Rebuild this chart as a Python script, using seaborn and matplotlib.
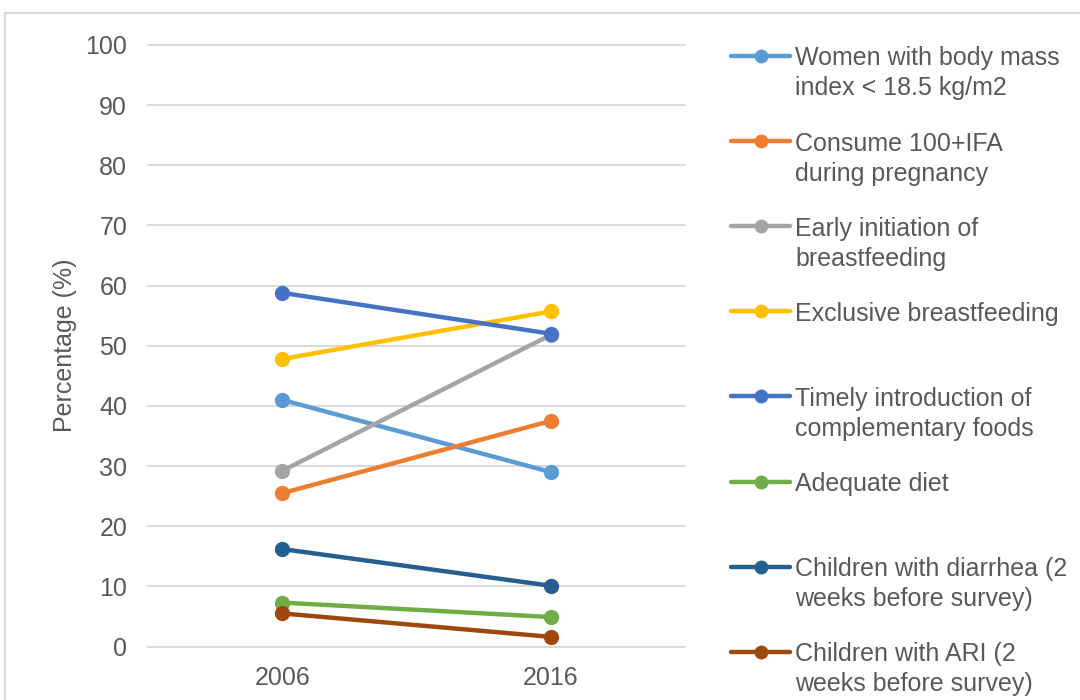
import pandas as pd
import seaborn as sns
import matplotlib.pyplot as plt
from matplotlib.lines import Line2D
from matplotlib.patches import Rectangle

# ---- data ----
years = ["2006", "2016"]
labels = [
    "Women with body mass\nindex < 18.5 kg/m2",
    "Consume 100+IFA\nduring pregnancy",
    "Early initiation of\nbreastfeeding",
    "Exclusive breastfeeding",
    "Timely introduction of\ncomplementary foods",
    "Adequate diet",
    "Children with diarrhea (2\nweeks before survey)",
    "Children with ARI (2\nweeks before survey)",
]
women_bmi = [41.0, 29.0]
ifa_pregnancy = [25.5, 37.5]
early_bf = [29.2, 51.8]
exclusive_bf = [47.8, 55.7]
timely_cf = [58.8, 52.0]
adequate_diet = [7.3, 4.9]
diarrhea = [16.2, 10.1]
ari = [5.5, 1.6]
colors = ["#5B9BD5", "#ED7D31", "#A5A5A5", "#FFC000",
          "#4472C4", "#70AD47", "#255E91", "#9E480E"]

series_values = [women_bmi, ifa_pregnancy, early_bf, exclusive_bf,
                 timely_cf, adequate_diet, diarrhea, ari]
rows = []
for lab, vals in zip(labels, series_values):
    for i, (yr, v) in enumerate(zip(years, vals)):
        rows.append({"series": lab, "pos": i, "year": yr, "value": v})
df = pd.DataFrame(rows)

sns.set_theme(style="white")
plt.rcParams["font.family"] = ["Liberation Sans", "DejaVu Sans"]
TXT = "#595959"
GRID = "#D9D9D9"
FS = 18

fig = plt.figure(figsize=(10.8, 7), dpi=100)
ax = fig.add_axes([148 / 1080, 1 - 646.5 / 700, (685 - 148) / 1080, (646.5 - 45) / 700])

sns.lineplot(data=df, x="pos", y="value", hue="series", hue_order=labels,
             palette=colors, marker="o", markersize=11, markeredgewidth=0,
             linewidth=3.2, legend=False, errorbar=None, sort=False, ax=ax)

ax.set_xlim(-0.5, 1.5)
ax.set_xticks([0, 1])
ax.set_xticklabels(years)
ax.set_ylim(0, 100)
ax.set_yticks(range(0, 101, 10))
ax.grid(axis="y", color=GRID, lw=1.4)
ax.grid(axis="x", visible=False)
ax.set_axisbelow(True)
for gl in ax.get_ygridlines():
    gl.set_clip_on(False)
for s in ax.spines.values():
    s.set_visible(False)
ax.tick_params(axis="both", length=0, labelsize=FS, labelcolor=TXT)
ax.tick_params(axis="y", pad=15)
ax.tick_params(axis="x", pad=14)
ax.set_xlabel("")
ax.set_ylabel("Percentage (%)", fontsize=FS, color=TXT)
ax.yaxis.set_label_coords(-0.132, 0.50)

# chart border
fig.add_artist(Rectangle((5 / 1080, -0.1), 1.5, 0.1 + 1 - 13 / 700,
                         transform=fig.transFigure, fill=False,
                         edgecolor=GRID, lw=1.5))

# legend (Excel style: handle aligned with first text line)
for i, (lab, col) in enumerate(zip(labels, colors)):
    ypx = 56 + i * 85.1
    yf = 1 - ypx / 700
    fig.add_artist(Line2D([731 / 1080, 790 / 1080], [yf, yf], color=col,
                          lw=3.2, solid_capstyle="round",
                          transform=fig.transFigure))
    fig.add_artist(Line2D([760.5 / 1080], [yf], marker="o", markersize=10,
                          color=col, markeredgewidth=0, linestyle="none",
                          transform=fig.transFigure))
    for k, line in enumerate(lab.split("\n")):
        fig.text(795 / 1080, 1 - (ypx + k * 30) / 700, line, fontsize=FS,
                 color=TXT, ha="left", va="center_baseline")

fig.savefig("out.png", dpi=100)
